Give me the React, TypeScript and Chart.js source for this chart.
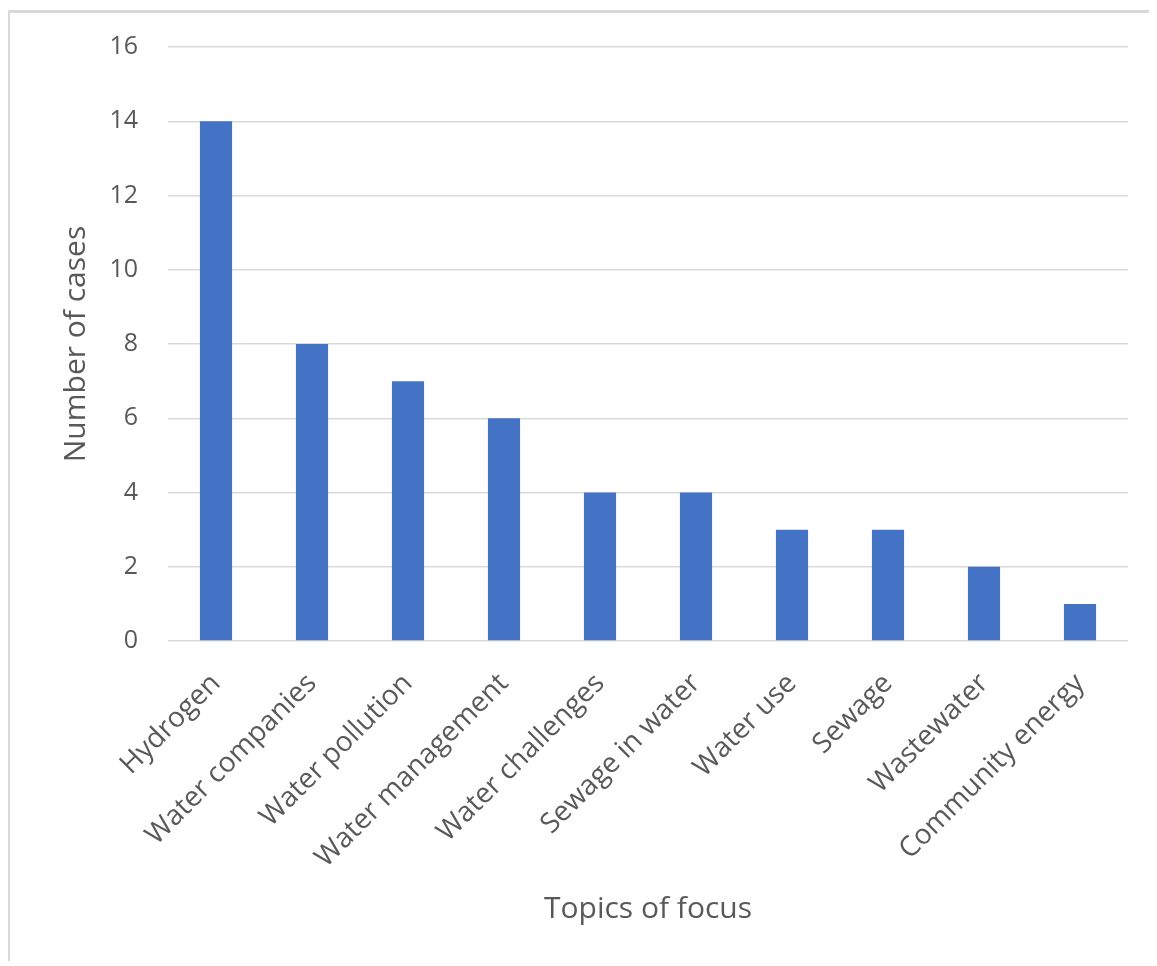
import React, { useEffect, useRef } from "react";
import { Chart, registerables } from "chart.js";

Chart.register(...registerables);

const categories = [
  "Hydrogen",
  "Water companies",
  "Water pollution",
  "Water management",
  "Water challenges",
  "Sewage in water",
  "Water use",
  "Sewage",
  "Wastewater",
  "Community energy",
];
const cases = [14, 8, 7, 6, 4, 4, 3, 3, 2, 1];
const yTicks = [0, 2, 4, 6, 8, 10, 12, 14, 16];

const FONT = "'Open Sans', sans-serif";
const TEXT = "#595959";

export default function App() {
  const ref = useRef<HTMLCanvasElement | null>(null);
  useEffect(() => {
    if (!ref.current) return;
    const chart = new Chart(ref.current, {
      type: "bar",
      data: {
        labels: categories,
        datasets: [
          {
            data: cases,
            backgroundColor: "#4472C4",
            borderWidth: 0,
            categoryPercentage: 1,
            barPercentage: 0.335,
          },
        ],
      },
      options: {
        animation: false,
        responsive: false,
        maintainAspectRatio: false,
        layout: { padding: { left: 48, top: 34, right: 29, bottom: 31 } },
        plugins: { legend: { display: false }, tooltip: { enabled: false } },
        scales: {
          x: {
            grid: { display: false, drawTicks: false },
            border: { display: false },
            ticks: {
              color: TEXT,
              font: { family: FONT, size: 28 },
              maxRotation: 45,
              minRotation: 45,
              autoSkip: false,
              padding: 26,
            },
            title: {
              display: true,
              text: "Topics of focus",
              color: TEXT,
              font: { family: FONT, size: 30 },
              padding: { top: 0, bottom: 0 },
            },
            afterFit: (s: any) => {
              s.height = 945 - 628 - 31;
            },
          },
          y: {
            min: 0,
            max: 16,
            afterBuildTicks: (s: any) => {
              s.ticks = yTicks.map((v) => ({ value: v }));
            },
            grid: {
              color: "#d9d9d9",
              lineWidth: 1.5,
              drawTicks: true,
              tickLength: 26,
              tickColor: "rgba(0,0,0,0)",
            },
            border: { display: false },
            ticks: {
              color: TEXT,
              font: { family: FONT, size: 25 },
              padding: 4,
            },
            title: {
              display: true,
              text: "Number of cases",
              color: TEXT,
              font: { family: FONT, size: 30 },
              padding: { top: 0, bottom: 0 },
            },
            afterFit: (s: any) => {
              s.width = 110;
            },
          },
        },
      },
    });
    return () => chart.destroy();
  }, []);
  return (
    <div
      style={{
        marginTop: 2,
        marginLeft: -1,
        width: 1147,
        height: 948,
        borderLeft: "3px solid #d9d9d9",
        borderTop: "3px solid #d9d9d9",
        background: "#fff",
      }}
    >
      <canvas ref={ref} width={1147} height={945} style={{ display: "block" }} />
    </div>
  );
}
